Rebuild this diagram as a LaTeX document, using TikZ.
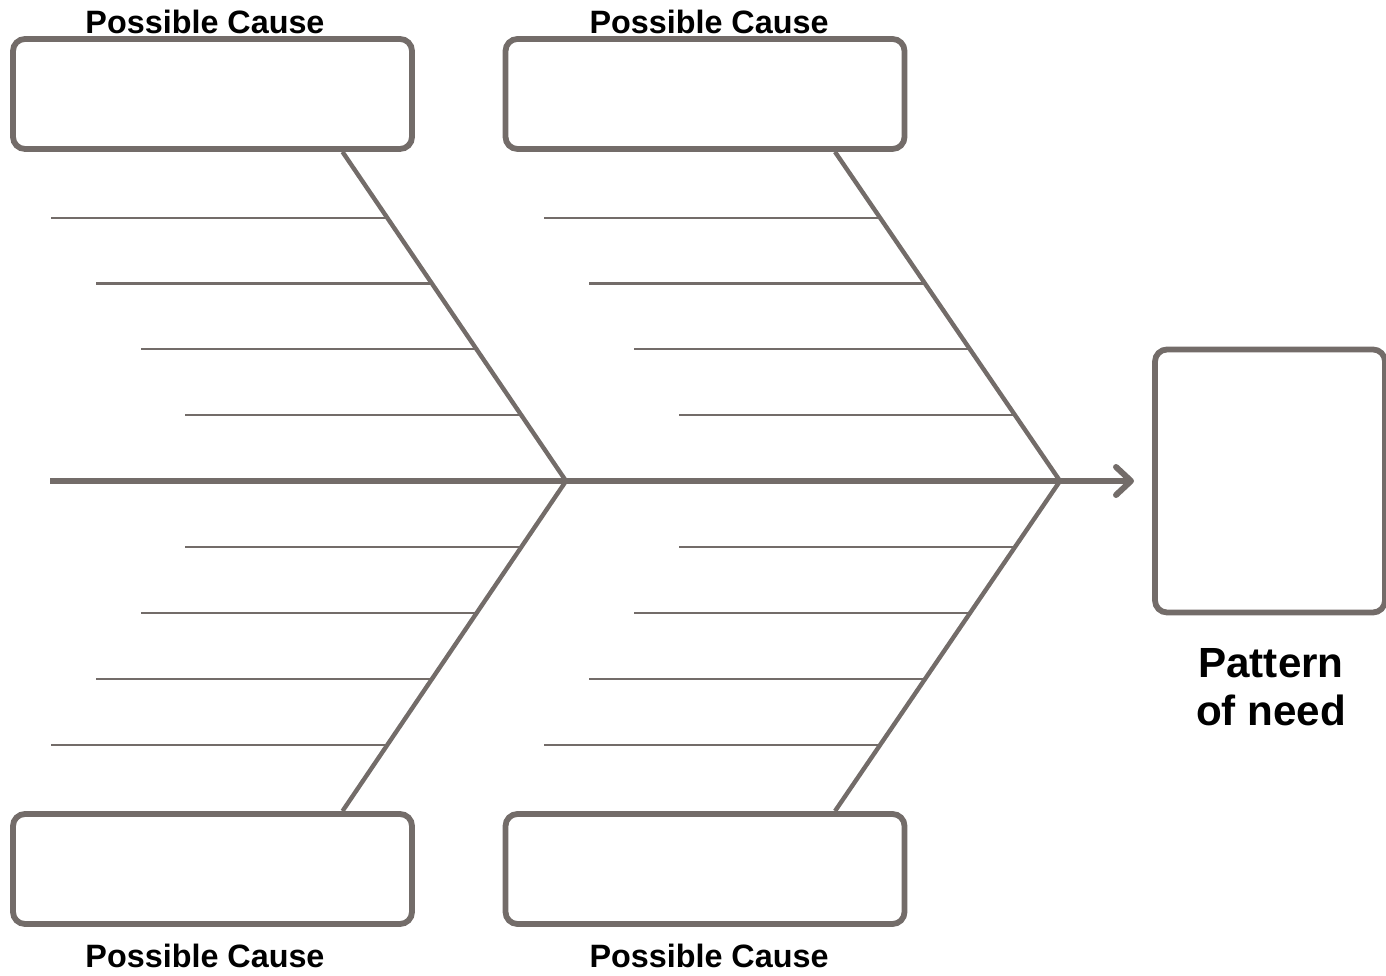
\documentclass[tikz,border=0pt]{standalone}
\usepackage{fontspec}
\setmainfont{Liberation Sans}
\usetikzlibrary{calc,arrows.meta}
\definecolor{bone}{HTML}{736C69}

\begin{document}
\begin{tikzpicture}[
        causebox/.style={draw=bone, line width=1.65pt, rounded corners=0.12cm, minimum width=3.99cm, minimum height=1.1cm, inner sep=0},
        causelabel/.style={font=\bfseries\fontsize{9.2}{11}\selectfont, inner sep=0},
        bonestyle/.style={draw=bone, line width=1.25pt, line join=round},
        ribstyle/.style={draw=bone, line width=0.6pt}]
                \useasboundingbox (0,0) rectangle (13.86,9.76);
                \begin{scope}[every node/.style={causebox}]
                        \node (TL) at (2.125,8.82) {};
                        \node (TR) at (7.05,8.82) {};
                        \node (BL) at (2.125,1.07) {};
                        \node (BR) at (7.05,1.07) {};
                \end{scope}
                \node [draw=bone, line width=1.65pt, rounded corners=0.12cm, minimum width=2.30cm, minimum height=2.63cm, inner sep=0] (Eff) at (12.70,4.95) {};
                \begin{scope}[every node/.style={causelabel}]
                        \node (TLlab) at (2.05,9.545) {Possible Cause};
                        \node (TRlab) at (7.09,9.545) {Possible Cause};
                        \node (BLlab) at (2.05,0.20) {Possible Cause};
                        \node (BRlab) at (7.09,0.20) {Possible Cause};
                \end{scope}
                \node [font=\bfseries\fontsize{12}{13.5}\selectfont, align=center, inner sep=0] (Efflab) at (12.71,2.89) {Pattern\\of need};
                \coordinate (tail) at (0.5,4.95);
                \coordinate (head) at (11.34,4.95);
                \coordinate (J1) at (5.66,4.95);
                \coordinate (J2) at (10.60,4.95);
                \coordinate (t1) at ([xshift=1.3cm]TL.south);
                \coordinate (t2) at ([xshift=1.3cm]TR.south);
                \coordinate (b1) at ([xshift=1.3cm]BL.north);
                \coordinate (b2) at ([xshift=1.3cm]BR.north);
                % spine
                \draw [bone, line width=1.7pt, -{Straight Barb[length=1.5mm,width=2.8mm,round]}] (tail) -- (head);
                % bones
                \draw [bonestyle] (t1) -- (J1) -- (b1);
                \draw [bonestyle] (t2) -- (J2) -- (b2);
                % ribs
                \foreach \f in {0.2,0.4,0.6,0.8} {
                        \draw [ribstyle] ($(t1)!\f!(J1)$) -- ++(-3.36,0);
                        \draw [ribstyle] ($(t2)!\f!(J2)$) -- ++(-3.36,0);
                        \draw [ribstyle] ($(J1)!\f!(b1)$) -- ++(-3.36,0);
                        \draw [ribstyle] ($(J2)!\f!(b2)$) -- ++(-3.36,0);
                }
        \end{tikzpicture}
\end{document}
